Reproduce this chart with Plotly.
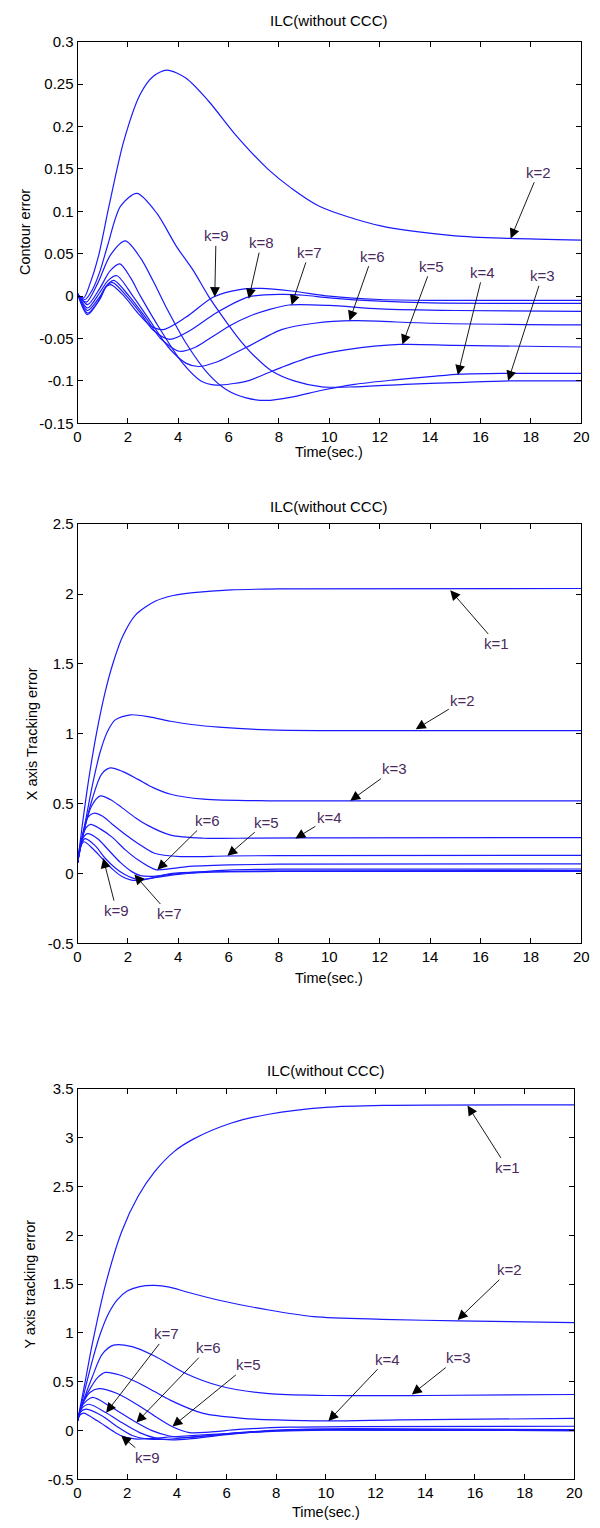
import plotly.graph_objects as go

W, H = 600, 1528

# ---------------- tick labels ----------------
time_ticks = [0, 2, 4, 6, 8, 10, 12, 14, 16, 18, 20]
time_tick_text = ["0", "2", "4", "6", "8", "10", "12", "14", "16", "18", "20"]
c_ticks = [-0.15, -0.1, -0.05, 0, 0.05, 0.1, 0.15, 0.2, 0.25, 0.3]
c_tick_text = ["-0.15", "-0.1", "-0.05", "0", "0.05", "0.1", "0.15", "0.2", "0.25", "0.3"]
x_ticks = [-0.5, 0, 0.5, 1, 1.5, 2, 2.5]
x_tick_text = ["-0.5", "0", "0.5", "1", "1.5", "2", "2.5"]
y_ticks = [-0.5, 0, 0.5, 1, 1.5, 2, 2.5, 3, 3.5]
y_tick_text = ["-0.5", "0", "0.5", "1", "1.5", "2", "2.5", "3", "3.5"]

title_text = "ILC(without CCC)"
xlabel_text = "Time(sec.)"
ylabels = ["Contour error", "X axis Tracking error", "Y axis tracking error"]

# ---------------- panel 1 : contour error ----------------
c2_t = [0, 0.25, 0.5, 0.84, 1.25, 1.84, 2.49, 3.0, 3.55, 4.3, 5.2, 6.25, 7.55, 8.5, 9.6, 12, 15, 17.2, 20]
c2_v = [0.002, -0.002, 0.015, 0.048, 0.106, 0.183, 0.238, 0.259, 0.2665, 0.257, 0.230, 0.191, 0.150, 0.127, 0.106, 0.083, 0.071, 0.068, 0.066]
c3_t = [0, 0.3, 0.6, 0.9, 1.19, 1.71, 2.36, 3.14, 3.92, 4.6, 5.2, 5.8, 6.4, 7.0, 7.7, 8.6, 9.7, 11, 13, 15, 17.2, 20]
c3_v = [0.002, -0.004, 0.008, 0.03, 0.059, 0.106, 0.121, 0.098, 0.059, 0.03, 0.0, -0.026, -0.05, -0.07, -0.088, -0.1, -0.107, -0.107, -0.104, -0.102, -0.1, -0.1]
c4_t = [0, 0.35, 0.8, 1.3, 1.9, 2.5, 3.0, 3.5, 4.3, 5.2, 5.9, 6.7, 7.5, 8.5, 9.7, 11, 12.5, 14, 15.2, 17, 20]
c4_v = [0.002, -0.007, 0.015, 0.048, 0.065, 0.045, 0.018, -0.012, -0.055, -0.092, -0.11, -0.12, -0.123, -0.119, -0.111, -0.104, -0.099, -0.095, -0.092, -0.091, -0.091]
c5_t = [0, 0.4, 0.9, 1.3, 1.68, 2.1, 2.5, 3.3, 4.2, 4.9, 5.5, 6.2, 6.8, 7.6, 8.1, 9.4, 10.7, 12.8, 15, 20]
c5_v = [0.003, -0.01, 0.01, 0.03, 0.038, 0.022, 0.0, -0.04, -0.08, -0.1, -0.105, -0.103, -0.0996, -0.09, -0.084, -0.0705, -0.063, -0.057, -0.058, -0.06]
c6_t = [0, 0.4, 0.9, 1.2, 1.56, 2.2, 2.9, 3.6, 4.3, 4.8, 5.5, 6.2, 6.8, 8.1, 9.4, 11, 14, 20]
c6_v = [0.003, -0.014, 0.005, 0.018, 0.024, 0.0, -0.03, -0.06, -0.079, -0.083, -0.078, -0.068, -0.059, -0.0395, -0.032, -0.029, -0.032, -0.034]
c7_t = [0, 0.4, 0.9, 1.2, 1.45, 2.05, 2.7, 3.3, 4.05, 4.7, 5.4, 6.1, 6.8, 7.6, 8.4, 10, 12, 15, 20]
c7_v = [0.003, -0.017, 0.0, 0.014, 0.0186, 0.0, -0.025, -0.05, -0.065, -0.06, -0.047, -0.034, -0.024, -0.016, -0.0105, -0.011, -0.015, -0.017, -0.018]
c8_t = [0, 0.4, 0.9, 1.15, 1.4, 1.95, 2.5, 3.0, 3.66, 4.5, 5.5, 6.8, 8.1, 9, 10, 12, 14, 20]
c8_v = [0.003, -0.02, -0.003, 0.012, 0.016, 0.0, -0.02, -0.04, -0.051, -0.04, -0.02, -0.001, 0.002, 0.001, -0.002, -0.006, -0.008, -0.0085]
c9_t = [0, 0.4, 0.85, 1.1, 1.32, 1.85, 2.4, 2.9, 3.4, 4.3, 5.4, 6.5, 7.3, 8.5, 10, 12, 14, 20]
c9_v = [0.003, -0.022, -0.005, 0.01, 0.0136, 0.0, -0.02, -0.035, -0.0395, -0.025, -0.001, 0.008, 0.009, 0.006, 0.0, -0.004, -0.005, -0.005]

# labels: text, tip t, tip value, text t, text value
c_lab_text = ["k=2", "k=9", "k=8", "k=7", "k=6", "k=5", "k=4", "k=3"]
c_lab_tip_t = [17.2, 5.45, 6.8, 8.5, 10.8, 12.9, 15.1, 17.1]
c_lab_tip_v = [0.068, -0.001, -0.003, -0.0105, -0.029, -0.057, -0.093, -0.0997]
c_lab_txt_t = [18.3, 5.5, 7.3, 9.2, 11.7, 14.05, 16.1, 18.45]
c_lab_txt_v = [0.146, 0.071, 0.063, 0.0515, 0.047, 0.035, 0.028, 0.024]

# ---------------- panel 2 : X axis tracking error ----------------
x1_t = [0, 0.2, 0.45, 0.75, 1.1, 1.4, 1.8, 2.3, 3.1, 3.8, 4.6, 6.1, 8, 20]
x1_v = [0.075, 0.36, 0.68, 1.0, 1.3, 1.5, 1.7, 1.85, 1.95, 1.99, 2.01, 2.03, 2.037, 2.04]
x2_t = [0, 0.3, 0.6, 0.9, 1.2, 1.5, 2.1, 2.9, 3.7, 4.6, 5.6, 7.6, 10, 20]
x2_v = [0.075, 0.36, 0.64, 0.87, 1.02, 1.1, 1.136, 1.12, 1.09, 1.065, 1.048, 1.028, 1.023, 1.023]
x3_t = [0, 0.25, 0.58, 0.95, 1.3, 1.8, 2.4, 3.0, 3.7, 5.0, 7.6, 10, 20]
x3_v = [0.075, 0.3, 0.53, 0.71, 0.756, 0.73, 0.674, 0.615, 0.568, 0.533, 0.521, 0.52, 0.52]
x4_t = [0, 0.25, 0.55, 0.91, 1.3, 1.75, 2.3, 2.79, 3.7, 5.0, 7, 10, 20]
x4_v = [0.075, 0.3, 0.48, 0.556, 0.53, 0.474, 0.4, 0.345, 0.275, 0.253, 0.254, 0.256, 0.258]
x5_t = [0, 0.2, 0.4, 0.65, 1.0, 1.36, 1.9, 2.4, 3.05, 4.09, 5.9, 8, 20]
x5_v = [0.075, 0.28, 0.4, 0.432, 0.41, 0.357, 0.28, 0.216, 0.146, 0.122, 0.126, 0.129, 0.13]
x6_t = [0, 0.18, 0.35, 0.52, 0.9, 1.36, 1.9, 2.4, 3.1, 3.7, 4.35, 6, 8, 20]
x6_v = [0.075, 0.25, 0.33, 0.352, 0.32, 0.263, 0.17, 0.0986, 0.028, 0.035, 0.05, 0.062, 0.068, 0.07]
x7_t = [0, 0.15, 0.39, 0.8, 1.23, 1.7, 2.14, 2.5, 3.0, 4, 6, 8, 20]
x7_v = [0.075, 0.23, 0.286, 0.25, 0.169, 0.08, 0.016, -0.015, -0.02, 0.0, 0.025, 0.032, 0.033]
x8_t = [0, 0.13, 0.3, 0.7, 1.1, 1.5, 1.88, 2.4, 3.0, 4, 6, 8, 20]
x8_v = [0.075, 0.2, 0.25, 0.2, 0.11, 0.04, -0.007, -0.042, -0.03, -0.005, 0.015, 0.02, 0.022]
x9_t = [0, 0.1, 0.25, 0.6, 0.97, 1.4, 1.75, 2.14, 2.6, 3.2, 3.7, 5, 8, 20]
x9_v = [0.075, 0.18, 0.228, 0.18, 0.11, 0.03, -0.019, -0.047, -0.045, -0.02, 0.0, 0.012, 0.015, 0.015]

x_lab_text = ["k=1", "k=2", "k=3", "k=4", "k=5", "k=6", "k=7", "k=9"]
x_lab_tip_t = [14.8, 13.43, 10.83, 8.65, 5.95, 3.17, 2.26, 1.02]
x_lab_tip_v = [2.028, 1.033, 0.521, 0.251, 0.127, 0.028, -0.007, 0.11]
x_lab_txt_t = [16.65, 15.3, 12.6, 10.0, 7.5, 5.15, 3.64, 1.55]
x_lab_txt_v = [1.643, 1.237, 0.751, 0.399, 0.368, 0.38, -0.289, -0.265]

# ---------------- panel 3 : Y axis tracking error ----------------
y1_t = [0, 0.3, 0.59, 1.12, 1.78, 2.44, 3.1, 3.9, 4.7, 6.2, 7.7, 10, 12.3, 20]
y1_v = [0.1, 0.49, 0.88, 1.487, 2.04, 2.4, 2.65, 2.86, 2.99, 3.15, 3.24, 3.31, 3.33, 3.335]
y2_t = [0, 0.3, 0.6, 0.9, 1.25, 1.6, 2.0, 2.5, 3.1, 3.7, 4.4, 5.7, 7.7, 9.5, 12.25, 15.3, 20]
y2_v = [0.1, 0.42, 0.72, 0.98, 1.2, 1.34, 1.43, 1.475, 1.487, 1.47, 1.42, 1.335, 1.235, 1.167, 1.14, 1.124, 1.107]
y3_t = [0, 0.3, 0.59, 0.99, 1.45, 2.2, 3.1, 4.4, 5.7, 7.7, 10, 14, 20]
y3_v = [0.1, 0.35, 0.546, 0.78, 0.875, 0.86, 0.764, 0.58, 0.46, 0.378, 0.36, 0.36, 0.37]
y4_t = [0, 0.2, 0.46, 0.8, 1.12, 1.7, 2.44, 3.1, 3.75, 5.06, 6.64, 8, 10.1, 13, 20]
y4_v = [0.1, 0.28, 0.41, 0.54, 0.596, 0.57, 0.49, 0.4, 0.31, 0.176, 0.126, 0.11, 0.1, 0.11, 0.125]
y5_t = [0, 0.2, 0.5, 0.86, 1.6, 2.44, 3.1, 3.8, 4.5, 5.3, 6.5, 8.5, 11, 20]
y5_v = [0.1, 0.27, 0.39, 0.43, 0.38, 0.26, 0.15, 0.042, -0.02, -0.015, 0.012, 0.035, 0.042, 0.045]
y6_t = [0, 0.2, 0.6, 1.3, 2.3, 3.0, 3.7, 4.3, 5.0, 6.5, 8.5, 11, 20]
y6_v = [0.1, 0.26, 0.34, 0.25, 0.093, 0.0, -0.055, -0.07, -0.058, -0.02, 0.01, 0.02, 0.01]
y7_t = [0, 0.15, 0.45, 1.15, 1.8, 2.5, 3.2, 3.8, 4.5, 6, 8, 10, 20]
y7_v = [0.1, 0.22, 0.27, 0.183, 0.08, -0.02, -0.08, -0.095, -0.085, -0.04, 0.0, 0.012, 0.005]
y8_t = [0, 0.12, 0.35, 1.0, 1.6, 2.2, 2.8, 3.5, 4.5, 6, 8, 10, 20]
y8_v = [0.1, 0.19, 0.22, 0.15, 0.04, -0.05, -0.085, -0.09, -0.07, -0.035, 0.0, 0.008, 0.0]
y9_t = [0, 0.1, 0.25, 0.8, 1.4, 1.76, 2.3, 3.0, 4.0, 6, 8, 10, 20]
y9_v = [0.1, 0.16, 0.18, 0.1, 0.0, -0.052, -0.085, -0.08, -0.06, -0.03, -0.005, 0.005, 0.0]

y_lab_text = ["k=1", "k=2", "k=3", "k=4", "k=5", "k=6", "k=7", "k=9"]
y_lab_tip_t = [15.7, 15.3, 13.46, 10.1, 3.82, 2.37, 1.15, 1.76]
y_lab_tip_v = [3.33, 1.134, 0.371, 0.099, 0.042, 0.082, 0.183, -0.052]
y_lab_txt_t = [17.3, 17.4, 15.33, 12.46, 6.87, 5.27, 3.6, 2.8]
y_lab_txt_v = [2.69, 1.648, 0.748, 0.731, 0.673, 0.849, 0.99, -0.277]

# ---------------- layout geometry (pixels) ----------------
panels = [
    dict(x0=75, x1=589, y0=33, y1=419, yr=[-0.15, 0.3], yt=c_ticks, ytt=c_tick_text,
         series=[(c2_t, c2_v), (c3_t, c3_v), (c4_t, c4_v), (c5_t, c5_v), (c6_t, c6_v),
                 (c7_t, c7_v), (c8_t, c8_v), (c9_t, c9_v)],
         labs=(c_lab_text, c_lab_tip_t, c_lab_tip_v, c_lab_txt_t, c_lab_txt_v),
         title_y=12, xlab_y=448, ylab_x=22),
    dict(x0=75, x1=589, y0=521, y1=945, yr=[-0.5, 2.5], yt=x_ticks, ytt=x_tick_text,
         series=[(x1_t, x1_v), (x2_t, x2_v), (x3_t, x3_v), (x4_t, x4_v), (x5_t, x5_v),
                 (x6_t, x6_v), (x7_t, x7_v), (x8_t, x8_v), (x9_t, x9_v)],
         labs=(x_lab_text, x_lab_tip_t, x_lab_tip_v, x_lab_txt_t, x_lab_txt_v),
         title_y=503, xlab_y=980, ylab_x=28),
    dict(x0=75, x1=582, y0=1092, y1=1487, yr=[-0.5, 3.5], yt=y_ticks, ytt=y_tick_text,
         series=[(y1_t, y1_v), (y2_t, y2_v), (y3_t, y3_v), (y4_t, y4_v), (y5_t, y5_v),
                 (y6_t, y6_v), (y7_t, y7_v), (y8_t, y8_v), (y9_t, y9_v)],
         labs=(y_lab_text, y_lab_tip_t, y_lab_tip_v, y_lab_txt_t, y_lab_txt_v),
         title_y=1073, xlab_y=1520, ylab_x=27),
]

FONT = "Liberation Sans, Arial, sans-serif"
LINE_COLOR = "#1a1aff"
LAB_COLOR = "#4a2a5e"

fig = go.Figure()
annotations = []
layout = dict(
    width=W, height=H, margin=dict(l=0, r=0, t=0, b=0),
    paper_bgcolor="white", plot_bgcolor="white", showlegend=False,
    font=dict(family=FONT, size=14, color="black"),
)

for i, p in enumerate(panels, start=1):
    xa = "x" if i == 1 else f"x{i}"
    ya = "y" if i == 1 else f"y{i}"
    xkey = "xaxis" if i == 1 else f"xaxis{i}"
    ykey = "yaxis" if i == 1 else f"yaxis{i}"
    dom_x = [p["x0"] / W, p["x1"] / W]
    dom_y = [1 - p["y1"] / H, 1 - p["y0"] / H]
    layout[xkey] = dict(
        domain=dom_x, anchor=ya, range=[0, 20], tickvals=time_ticks, ticktext=time_tick_text,
        ticks="inside", ticklen=5, tickcolor="black", showline=True, linecolor="black",
        linewidth=1, mirror="allticks", showgrid=False, zeroline=False,
        tickfont=dict(size=15, family=FONT, color="black"),
    )
    layout[ykey] = dict(
        domain=dom_y, anchor=xa, range=p["yr"], tickvals=p["yt"], ticktext=p["ytt"],
        ticks="inside", ticklen=5, tickcolor="black", showline=True, linecolor="black",
        linewidth=1, mirror="allticks", showgrid=False, zeroline=False,
        tickfont=dict(size=15, family=FONT, color="black"),
    )
    for t, v in p["series"]:
        fig.add_trace(go.Scatter(
            x=t, y=v, xaxis=xa, yaxis=ya, mode="lines",
            line=dict(color=LINE_COLOR, width=1.2, shape="spline", smoothing=0.8),
            hoverinfo="skip",
        ))
    texts, tip_t, tip_v, txt_t, txt_v = p["labs"]
    for s, tt, tv, lt, lv in zip(texts, tip_t, tip_v, txt_t, txt_v):
        annotations.append(dict(
            x=tt, y=tv, xref=xa, yref=ya, ax=lt, ay=lv, axref=xa, ayref=ya,
            text=s, showarrow=True, arrowhead=2, arrowsize=2.2, arrowwidth=0.9,
            arrowcolor="black", font=dict(size=15, family=FONT, color=LAB_COLOR),
        ))
    cx = (p["x0"] + p["x1"]) / 2 / W
    annotations.append(dict(
        x=cx, y=1 - p["title_y"] / H, xref="paper", yref="paper", text=title_text,
        showarrow=False, font=dict(size=15, family=FONT, color="black"),
        xanchor="center", yanchor="middle",
    ))
    annotations.append(dict(
        x=cx, y=1 - p["xlab_y"] / H, xref="paper", yref="paper", text=xlabel_text,
        showarrow=False, font=dict(size=14.5, family=FONT, color="black"),
        xanchor="center", yanchor="middle",
    ))
    annotations.append(dict(
        x=p["ylab_x"] / W, y=1 - (p["y0"] + p["y1"]) / 2 / H, xref="paper", yref="paper",
        text=ylabels[i - 1], textangle=-90, showarrow=False,
        font=dict(size=14.5, family=FONT, color="black"),
        xanchor="center", yanchor="middle",
    ))

layout["annotations"] = annotations
fig.update_layout(**layout)
fig.write_html(
    "out.html",
    config={"displayModeBar": False},
    post_script=(
        "document.body.style.margin='0';"
        "document.body.style.padding='0';"
        "document.body.style.overflow='hidden';"
        "document.documentElement.style.overflow='hidden';"
    ),
)
